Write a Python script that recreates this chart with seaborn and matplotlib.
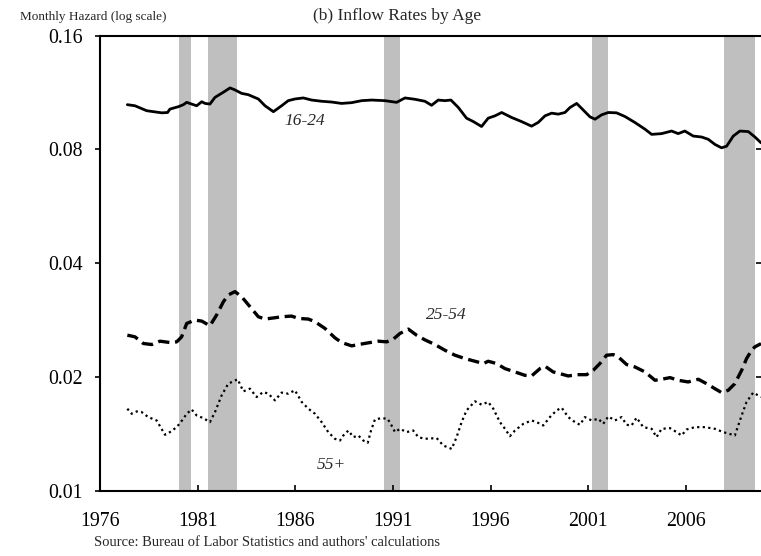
import matplotlib
matplotlib.use("Agg")
import matplotlib.pyplot as plt
from matplotlib.ticker import NullLocator
import pandas as pd
import seaborn as sns

# values (monthly hazard, log scale)
years_16_24 = [1977.40, 1977.79, 1978.39, 1979.16, 1979.46, 1979.58, 1980.01, 1980.27, 1980.44, 1980.69,
               1980.95, 1981.21, 1981.38, 1981.63, 1981.89, 1982.32, 1982.66, 1982.91, 1983.25, 1983.59,
               1984.11, 1984.45, 1984.88, 1985.30, 1985.64, 1985.98, 1986.41, 1986.84, 1987.35, 1987.86,
               1988.37, 1988.89, 1989.40, 1989.91, 1990.59, 1991.19, 1991.62, 1992.13, 1992.64, 1992.98,
               1993.32, 1993.66, 1993.97, 1994.35, 1994.77, 1995.12, 1995.54, 1995.88, 1996.23, 1996.57,
               1997.08, 1997.59, 1998.10, 1998.44, 1998.79, 1999.13, 1999.47, 1999.81, 2000.07, 2000.41,
               2000.75, 2001.09, 2001.35, 2001.69, 2002.03, 2002.45, 2002.88, 2003.39, 2003.91, 2004.25,
               2004.76, 2005.27, 2005.61, 2005.95, 2006.38, 2006.81, 2007.15, 2007.49, 2007.83, 2008.09,
               2008.43, 2008.77, 2009.20, 2009.54, 2009.85]
hazard_16_24 = [0.1051, 0.1044, 0.1013, 0.1000, 0.1002, 0.1023, 0.1038, 0.1051, 0.1066, 0.1055,
                0.1044, 0.1070, 0.1059, 0.1055, 0.1099, 0.1134, 0.1164, 0.1150, 0.1126, 0.1117,
                0.1088, 0.1044, 0.1007, 0.1044, 0.1077, 0.1088, 0.1095, 0.1081, 0.1073, 0.1068,
                0.1059, 0.1064, 0.1077, 0.1081, 0.1077, 0.1066, 0.1095, 0.1086, 0.1073, 0.1047,
                0.1081, 0.1077, 0.1081, 0.1033, 0.0968, 0.0948, 0.0920, 0.0968, 0.0982, 0.1002,
                0.0972, 0.0948, 0.0922, 0.0943, 0.0982, 0.0998, 0.0992, 0.1002, 0.1033, 0.1059,
                0.1017, 0.0976, 0.0962, 0.0988, 0.1002, 0.1000, 0.0978, 0.0943, 0.0905, 0.0877,
                0.0881, 0.0895, 0.0881, 0.0895, 0.0868, 0.0863, 0.0851, 0.0825, 0.0808, 0.0816,
                0.0868, 0.0895, 0.0892, 0.0863, 0.0833]

years_25_54 = [1977.40, 1977.79, 1978.22, 1978.65, 1979.07, 1979.58, 1979.93, 1980.18, 1980.44, 1980.86,
               1981.21, 1981.63, 1981.97, 1982.32, 1982.57, 1982.91, 1983.25, 1983.68, 1984.11, 1984.45,
               1984.96, 1985.30, 1985.81, 1986.16, 1986.67, 1987.01, 1987.52, 1988.03, 1988.37, 1988.89,
               1989.23, 1989.74, 1990.25, 1990.68, 1991.02, 1991.36, 1991.79, 1992.21, 1992.64, 1993.15,
               1993.66, 1994.18, 1994.69, 1995.20, 1995.63, 1995.88, 1996.31, 1996.74, 1997.25, 1997.76,
               1998.10, 1998.53, 1998.79, 1999.21, 1999.55, 1999.98, 2000.41, 2000.92, 2001.26, 2001.60,
               2001.94, 2002.28, 2002.54, 2002.97, 2003.39, 2003.91, 2004.42, 2004.76, 2005.19, 2005.61,
               2006.12, 2006.64, 2007.06, 2007.49, 2007.83, 2008.17, 2008.51, 2008.86, 2009.11, 2009.37,
               2009.54, 2009.85]
hazard_25_54 = [0.02580, 0.02554, 0.02452, 0.02437, 0.02487, 0.02467, 0.02477, 0.02554, 0.02771, 0.02828,
                0.02811, 0.02732, 0.02916, 0.03164, 0.03296, 0.03364, 0.03262, 0.03069, 0.02886, 0.02846,
                0.02869, 0.02886, 0.02898, 0.02857, 0.02846, 0.02800, 0.02688, 0.02539, 0.02467, 0.02417,
                0.02437, 0.02462, 0.02487, 0.02477, 0.02518, 0.02607, 0.02677, 0.02580, 0.02507, 0.02437,
                0.02354, 0.02283, 0.02237, 0.02201, 0.02170, 0.02201, 0.02170, 0.02104, 0.02062, 0.02020,
                0.02012, 0.02104, 0.02135, 0.02062, 0.02041, 0.02012, 0.02028, 0.02028, 0.02083, 0.02170,
                0.02283, 0.02292, 0.02260, 0.02157, 0.02126, 0.02062, 0.01960, 0.01972, 0.01992, 0.01960,
                0.01940, 0.01972, 0.01920, 0.01862, 0.01818, 0.01844, 0.01920, 0.02083, 0.02237, 0.02354,
                0.02403, 0.02450]

years_55 = [1977.40, 1977.62, 1977.88, 1978.13, 1978.47, 1978.90, 1979.33, 1979.58, 1979.93, 1980.20,
            1980.44, 1980.69, 1980.95, 1981.29, 1981.63, 1981.89, 1982.23, 1982.57, 1983.05, 1983.34,
            1983.68, 1984.02, 1984.36, 1984.62, 1984.96, 1985.30, 1985.64, 1985.98, 1986.33, 1986.67,
            1987.01, 1987.35, 1987.69, 1988.03, 1988.29, 1988.46, 1988.72, 1988.97, 1989.23, 1989.48,
            1989.71, 1989.88, 1990.08, 1990.42, 1990.73, 1990.93, 1991.11, 1991.36, 1991.70, 1992.04,
            1992.30, 1992.64, 1993.24, 1993.58, 1994.01, 1994.26, 1994.52, 1994.77, 1995.20, 1995.54,
            1995.88, 1996.14, 1996.48, 1996.74, 1996.99, 1997.25, 1997.68, 1998.10, 1998.36, 1998.70,
            1999.04, 1999.38, 1999.64, 1999.98, 2000.32, 2000.58, 2000.83, 2001.18, 2001.52, 2001.77,
            2002.03, 2002.37, 2002.71, 2002.97, 2003.22, 2003.48, 2003.82, 2004.25, 2004.50, 2004.76,
            2005.19, 2005.53, 2005.78, 2006.04, 2006.47, 2006.98, 2007.49, 2007.92, 2008.51, 2008.86,
            2009.11, 2009.45, 2009.85]
hazard_55 = [0.01648, 0.01598, 0.01621, 0.01615, 0.01566, 0.01534, 0.01406, 0.01429, 0.01473, 0.01534,
             0.01598, 0.01641, 0.01582, 0.01556, 0.01519, 0.01615, 0.01788, 0.01920, 0.01972, 0.01832,
             0.01862, 0.01770, 0.01825, 0.01806, 0.01734, 0.01818, 0.01806, 0.01844, 0.01717, 0.01648,
             0.01598, 0.01519, 0.01429, 0.01372, 0.01358, 0.01400, 0.01443, 0.01386, 0.01400, 0.01358,
             0.01339, 0.01443, 0.01544, 0.01556, 0.01550, 0.01488, 0.01429, 0.01458, 0.01429, 0.01443,
             0.01386, 0.01372, 0.01378, 0.01317, 0.01290, 0.01386, 0.01519, 0.01631, 0.01724, 0.01689,
             0.01717, 0.01648, 0.01519, 0.01458, 0.01394, 0.01443, 0.01503, 0.01534, 0.01519, 0.01488,
             0.01566, 0.01631, 0.01658, 0.01566, 0.01519, 0.01494, 0.01566, 0.01534, 0.01550, 0.01503,
             0.01572, 0.01534, 0.01566, 0.01494, 0.01488, 0.01560, 0.01473, 0.01458, 0.01386, 0.01458,
             0.01464, 0.01429, 0.01400, 0.01452, 0.01473, 0.01473, 0.01458, 0.01429, 0.01400, 0.01582,
             0.01717, 0.01818, 0.01770]

# NBER recessions (shaded)
recession_start = [1980.05, 1981.55, 1990.54, 2001.17, 2007.95]
recession_end = [1980.66, 1983.00, 1991.36, 2001.99, 2009.54]

y_ticks = [0.01, 0.02, 0.04, 0.08, 0.16]
y_tick_labels = ["0.01", "0.02", "0.04", "0.08", "0.16"]
x_ticks = [1976, 1981, 1986, 1991, 1996, 2001, 2006]

sns.set_theme(style="white")
plt.rcParams["font.family"] = ["Liberation Serif", "DejaVu Serif"]

fig = plt.figure(figsize=(7.61, 5.56), dpi=100)
ax = fig.add_axes([100 / 761, 65.3 / 556, 661 / 761, 455 / 556])

for s, e in zip(recession_start, recession_end):
    ax.axvspan(s, e, color="#bfbfbf", lw=0, zorder=0)

df1 = pd.DataFrame({"year": years_16_24, "hazard": hazard_16_24})
df2 = pd.DataFrame({"year": years_25_54, "hazard": hazard_25_54})
df3 = pd.DataFrame({"year": years_55, "hazard": hazard_55})

sns.lineplot(data=df1, x="year", y="hazard", ax=ax, color="black", lw=2.0, zorder=3)
sns.lineplot(data=df2, x="year", y="hazard", ax=ax, color="black", lw=2.4,
             linestyle=(0, (3.4, 1.7)), zorder=3)
sns.lineplot(data=df3, x="year", y="hazard", ax=ax, color="black", lw=1.6,
             linestyle=(0, (1, 1.5)), zorder=3)

ax.set_yscale("log")
ax.set_xlim(1976, 2009.85)
ax.set_ylim(0.01, 0.16)
ax.set_yticks(y_ticks)
ax.set_yticklabels(y_tick_labels)
ax.yaxis.set_minor_locator(NullLocator())
ax.set_xticks(x_ticks)
ax.set_xticklabels([str(x) for x in x_ticks])
ax.set_xlabel("")
ax.set_ylabel("")

ax.tick_params(axis="y", direction="out", length=3.6, width=1.2, pad=8.5,
               labelsize=14.3, left=True, colors="black")
ax.tick_params(axis="x", direction="in", length=4.3, width=1.2, pad=15,
               labelsize=14.3, bottom=True, colors="black")

for side in ["left", "bottom", "top"]:
    ax.spines[side].set_color("black")
    ax.spines[side].set_linewidth(1.5)
ax.spines["right"].set_visible(False)

# small tick marks at the cut-off right edge
sec = ax.secondary_yaxis("right")
sec.set_yticks(y_ticks)
sec.set_yticklabels([])
sec.yaxis.set_minor_locator(NullLocator())
sec.tick_params(direction="in", length=3.5, width=1.2, colors="black")
sec.spines["right"].set_visible(False)

ax.text(1986.5, 0.0951, "16-24", style="italic", fontsize=12.5, ha="center", va="center")
ax.text(1993.72, 0.02917, "25-54", style="italic", fontsize=12.5, ha="center", va="center")
ax.text(1987.83, 0.01166, "55+", style="italic", fontsize=12.5, ha="center", va="center")

fig.text(20 / 761, 1 - 17 / 556, "Monthly Hazard (log scale)", fontsize=9.5, ha="left", va="center")
fig.text(397 / 761, 1 - 16 / 556, "(b) Inflow Rates by Age", fontsize=12.5, ha="center", va="center")
fig.text(94 / 761, 1 - 543 / 556, "Source: Bureau of Labor Statistics and authors' calculations",
         fontsize=10.5, ha="left", va="center")

fig.savefig("out.png", dpi=100)
